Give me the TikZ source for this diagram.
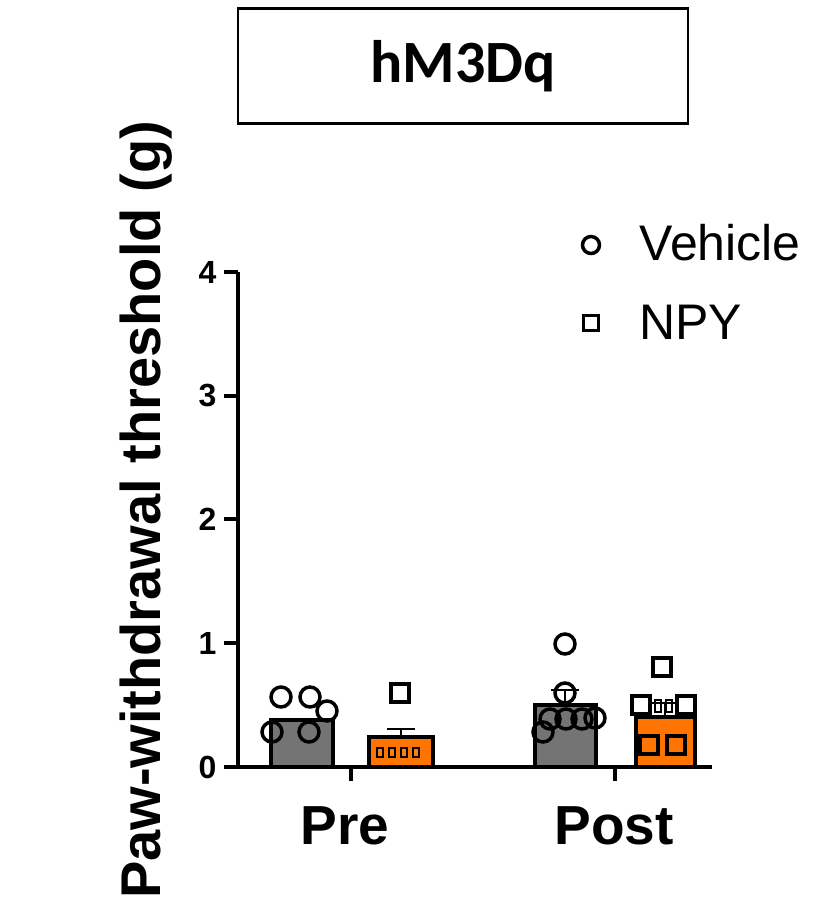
\documentclass[tikz,border=0pt]{standalone}
\usepackage{fontspec}
\setmainfont{Liberation Sans}
\newfontfamily\calib{Carlito}
\begin{document}
\begin{tikzpicture}[x=1pt,y=-1pt,
 ax/.style={line width=3.5pt},
 barv/.style={draw=black,line width=4.5pt,fill=gray!85!black!95},
 barn/.style={draw=black,line width=4.5pt,fill=orange!90!red},
 circ/.style={draw=black,line width=3.5pt,fill=none,circle,inner sep=0pt,minimum size=20pt},
 sq/.style={draw=black,line width=3.5pt,fill=none,rectangle,inner sep=0pt,minimum size=18pt},
 eb/.style={line width=2.5pt},
 tl/.style={font=\bfseries\fontsize{32}{34}\selectfont,anchor=east}]
\useasboundingbox (0,0) rectangle (837,915);
\node[draw,line width=2.5pt,minimum width=450pt,minimum height=115pt] (title) at (463,66) {\calib\bfseries\fontsize{60}{62}\selectfont hM3Dq};
% axes
\coordinate (o) at (238,767); \coordinate (yt) at (238,272); \coordinate (xe) at (712,767);
\draw[ax] (yt) -- (o) -- (xe);
\foreach \v/\y in {0/767,1/643,2/519,3/396,4/272}{
 \draw[ax] (224,\y) -- (238,\y);
 \node[tl] (t\v) at (220,\y) {\v};}
\draw[ax] (351,767) -- (351,781); \draw[ax] (615,767) -- (615,781);
\node[font=\bfseries\fontsize{55}{57}\selectfont] (pre) at (345,826) {Pre};
\node[font=\bfseries\fontsize{55}{57}\selectfont] (post) at (614,826) {Post};
\node[font=\bfseries\fontsize{56}{58}\selectfont,rotate=90] (yl) at (146,510) {Paw-withdrawal threshold (g)};
% bars
\draw[barv] (271,767) rectangle (333,720);
\draw[barn] (369,767) rectangle (433,737);
\draw[barv] (535,767) rectangle (596,705);
\draw[barn] (636,767) rectangle (695,717);
% error bars
\draw[eb] (401,737) -- (401,729) (387,729) -- (415,729);
\draw[eb] (565,705) -- (565,690) (551,690) -- (579,690);
\draw[eb] (665,717) -- (665,703) (651,703) -- (679,703);
% pre vehicle points
\foreach \p in {(281,697),(310,697),(327,711),(272,732),(309,732)} \node[circ] at \p {};
\node[sq] at (400,693) {};
\foreach \xx in {380,392,404,416} \draw[line width=1.5pt,fill=orange] (\xx-3,757) rectangle (\xx+3,748);
% post vehicle
\foreach \p in {(565,644),(565,693),(543,732),(550,719),(566,719),(582,719),(595,718)} \node[circ] at \p {};
% post NPY
\foreach \p in {(662,667),(641,705),(686,705),(649,745),(676,745)} \node[sq] at \p {};
\draw[line width=1.5pt] (655,700) rectangle (661,712) (666,700) rectangle (672,712);
% legend
\node[circ,minimum size=17pt] (lc) at (591,245) {};
\node[anchor=west,font=\fontsize{50}{52}\selectfont] (lv) at (636,243) {Vehicle};
\node[sq,minimum size=15pt] (ls) at (591,323) {};
\node[anchor=west,font=\fontsize{50}{52}\selectfont] (ln) at (636,322) {NPY};
\end{tikzpicture}
\end{document}
